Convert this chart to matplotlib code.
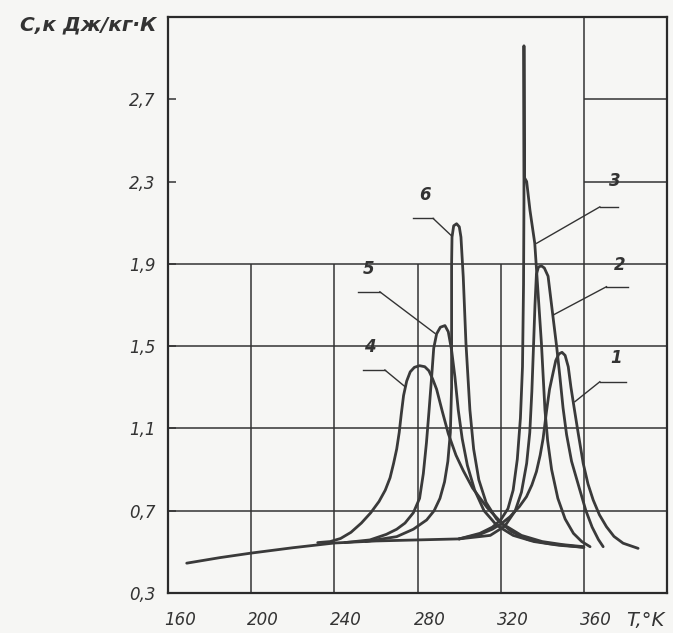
import matplotlib
matplotlib.use('Agg')
import matplotlib.pyplot as plt
from matplotlib.transforms import ScaledTranslation

# common low-temperature branch
base_T = [169, 185, 200, 220, 240, 260, 280, 300]
base_C = [0.445, 0.472, 0.494, 0.52, 0.543, 0.553, 0.558, 0.563]

curve1_T = [300, 310, 316, 320, 324.4, 329, 332.4, 335, 337.2, 339, 340.4, 342, 343.5, 345.2,
            346.5, 348, 349.5, 351, 352.5, 353.8, 355.5, 357.3, 359.7, 362, 364.5, 367.5,
            370.9, 374.5, 378.9, 386.1]
curve1_C = [0.563, 0.585, 0.61, 0.635, 0.67, 0.72, 0.768, 0.825, 0.89, 0.97, 1.05, 1.18, 1.29, 1.37,
            1.43, 1.462, 1.47, 1.455, 1.40, 1.30, 1.19, 1.076, 0.93, 0.83, 0.752, 0.68,
            0.622, 0.575, 0.542, 0.517]

curve2_T = [300, 315, 322, 327, 330, 332.5, 334, 335, 335.8, 336.5, 337.2, 338.2, 339.6, 341,
            342.8, 344, 345.2, 346.9, 348.5, 350, 351.7, 354.1, 358.1, 361, 364, 367, 369.3]
curve2_C = [0.563, 0.58, 0.625, 0.7, 0.79, 0.93, 1.08, 1.28, 1.5, 1.7, 1.85, 1.885, 1.89, 1.88,
            1.84, 1.74, 1.64, 1.5, 1.35, 1.2, 1.07, 0.94, 0.80, 0.70, 0.62, 0.56, 0.525]

curve3_T = [300, 310, 316, 320, 323.5, 326, 328, 329.5, 330.5, 331.0, 331.2, 331.2, 331.4,
            332.5, 334.1, 336.4, 338, 339.6, 341.3, 342.6, 344.5, 347.5, 351, 355, 359, 363]
curve3_C = [0.563, 0.59, 0.62, 0.655, 0.71, 0.8, 0.95, 1.15, 1.4, 1.8, 2.2, 2.96, 2.32,
            2.30, 2.16, 2.0, 1.757, 1.514, 1.19, 1.04, 0.9, 0.76, 0.66, 0.59, 0.55, 0.525]

curve4_T = [232, 238, 243, 248, 253, 257.5, 261.5, 264.5, 266.8, 268.5, 270, 271.2, 272.2,
            273.3, 274.8, 276.5, 278.5, 281, 283.5, 285.5, 287.3, 289.2, 292, 294.8, 298.5,
            302, 306.5, 313.5, 321, 330, 340, 350, 360]
curve4_C = [0.545, 0.55, 0.565, 0.595, 0.64, 0.69, 0.745, 0.8, 0.86, 0.93, 1.0, 1.08, 1.17,
            1.26, 1.33, 1.375, 1.397, 1.405, 1.40, 1.38, 1.34, 1.29, 1.18, 1.075, 0.97,
            0.895, 0.81, 0.715, 0.635, 0.58, 0.55, 0.535, 0.525]

curve5_T = [245, 257.1, 265, 270, 274, 278, 281, 282.8, 284.3, 285.5, 286.8, 287.8, 289.2, 291,
            293.2, 294.8, 296.4, 298, 299.6, 301.5, 304, 307.5, 312, 318, 326, 336, 348, 360]
curve5_C = [0.545, 0.558, 0.585, 0.61, 0.64, 0.69, 0.76, 0.88, 1.03, 1.18, 1.35, 1.49, 1.56, 1.592,
            1.60, 1.57, 1.48, 1.35, 1.19, 1.05, 0.92, 0.8, 0.7, 0.63, 0.58, 0.55, 0.532, 0.522]

curve6_T = [255, 270, 278, 284.4, 288, 290.8, 293, 294.6, 295.8, 296.4, 296.4, 296.6, 297.4, 298.8,
            300.1, 300.9, 302.0, 303.3, 305.2, 307, 309.5, 313, 318, 325, 333, 343, 360]
curve6_C = [0.55, 0.574, 0.61, 0.655, 0.7, 0.76, 0.84, 0.94, 1.08, 1.3, 1.9, 2.03, 2.085, 2.095,
            2.08, 2.03, 1.837, 1.515, 1.19, 1.0, 0.85, 0.74, 0.66, 0.60, 0.56, 0.54, 0.522]

curve_names = ['1', '2', '3', '4', '5', '6']
# label text position, underline start/end, leader end on the curve
label_pos = [(375.7, 1.40), (377.3, 1.85), (374.9, 2.26), (257.1, 1.45), (256.3, 1.83), (283.6, 2.19)]
label_line = [((367.7, 380.5), 1.327, (355.7, 1.23)),
              ((370.9, 381.2), 1.789, (345.2, 1.651)),
              ((367.7, 376.5), 2.177, (337.3, 2.0)),
              ((253.9, 264.3), 1.384, (274.0, 1.303)),
              ((251.5, 261.9), 1.764, (288.4, 1.562)),
              ((277.9, 287.5), 2.121, (296.4, 2.036))]

x_ticks = [160, 200, 240, 280, 320, 360]
y_ticks = [0.3, 0.7, 1.1, 1.5, 1.9, 2.3, 2.7]
y_labels = ['0,3', '0,7', '1,1', '1,5', '1,9', '2,3', '2,7']

ink = '#333333'
paper = '#f6f6f4'

fig = plt.figure(figsize=(6.73, 6.33), dpi=100, facecolor=paper)
ax = fig.add_axes([168 / 673, 40 / 633, 499 / 673, 576 / 633], facecolor=paper)
ax.set_xlim(160, 400)
ax.set_ylim(0.3, 3.1)

# grid: lower part full, upper part only in the last column
ax.vlines([200, 240, 280, 320], 0.3, 1.9, color=ink, lw=1.1)
ax.vlines([360], 0.3, 3.1, color=ink, lw=1.1)
ax.hlines([0.7, 1.1, 1.5, 1.9], 160, 400, color=ink, lw=1.1)
ax.hlines([2.3, 2.7], 360, 400, color=ink, lw=1.1)

kw = dict(color='#3a3a3a', lw=2.0, solid_joinstyle='round', solid_capstyle='round')
ax.plot(base_T, base_C, **kw)
for T, C in [(curve1_T, curve1_C), (curve2_T, curve2_C), (curve3_T, curve3_C),
             (curve4_T, curve4_C), (curve5_T, curve5_C), (curve6_T, curve6_C)]:
    ax.plot(T, C, **kw)

for name, (tx, ty), ((x0, x1), yl, (cx, cy)) in zip(curve_names, label_pos, label_line):
    ax.plot([x0, x1], [yl, yl], color=ink, lw=1.0)
    ax.plot([x1 if cx > x1 else x0, cx], [yl, cy], color=ink, lw=1.0)
    ax.text(tx, ty, name, ha='center', va='bottom', fontsize=12,
            fontstyle='italic', fontweight='bold', color=ink)

for s in ax.spines.values():
    s.set_color('#2a2a2a')
    s.set_linewidth(1.6)

ax.set_xticks(x_ticks)
ax.set_xticklabels([str(t) for t in x_ticks])
ax.set_yticks(y_ticks)
ax.set_yticklabels(y_labels)
ax.tick_params(axis='x', length=0, pad=13, labelsize=12, labelcolor=ink)
ax.tick_params(axis='y', direction='in', length=6, width=1.1, color=ink, pad=9,
               labelsize=12, labelcolor=ink)
for lbl in ax.get_xticklabels() + ax.get_yticklabels():
    lbl.set_fontstyle('italic')
for lbl in ax.get_xticklabels():
    lbl.set_transform(lbl.get_transform() + ScaledTranslation(0.12, 0, fig.dpi_scale_trans))

fig.text(157 / 673, 1 - 25 / 633, 'C,к Дж/кг·К', ha='right', va='center', fontsize=14.5,
         fontstyle='italic', fontweight='bold', color=ink)
fig.text(645 / 673, 1 - 620 / 633, 'T,°K', ha='center', va='center', fontsize=14,
         fontstyle='italic', color=ink)

fig.savefig('out.png', dpi=100, facecolor=paper)
